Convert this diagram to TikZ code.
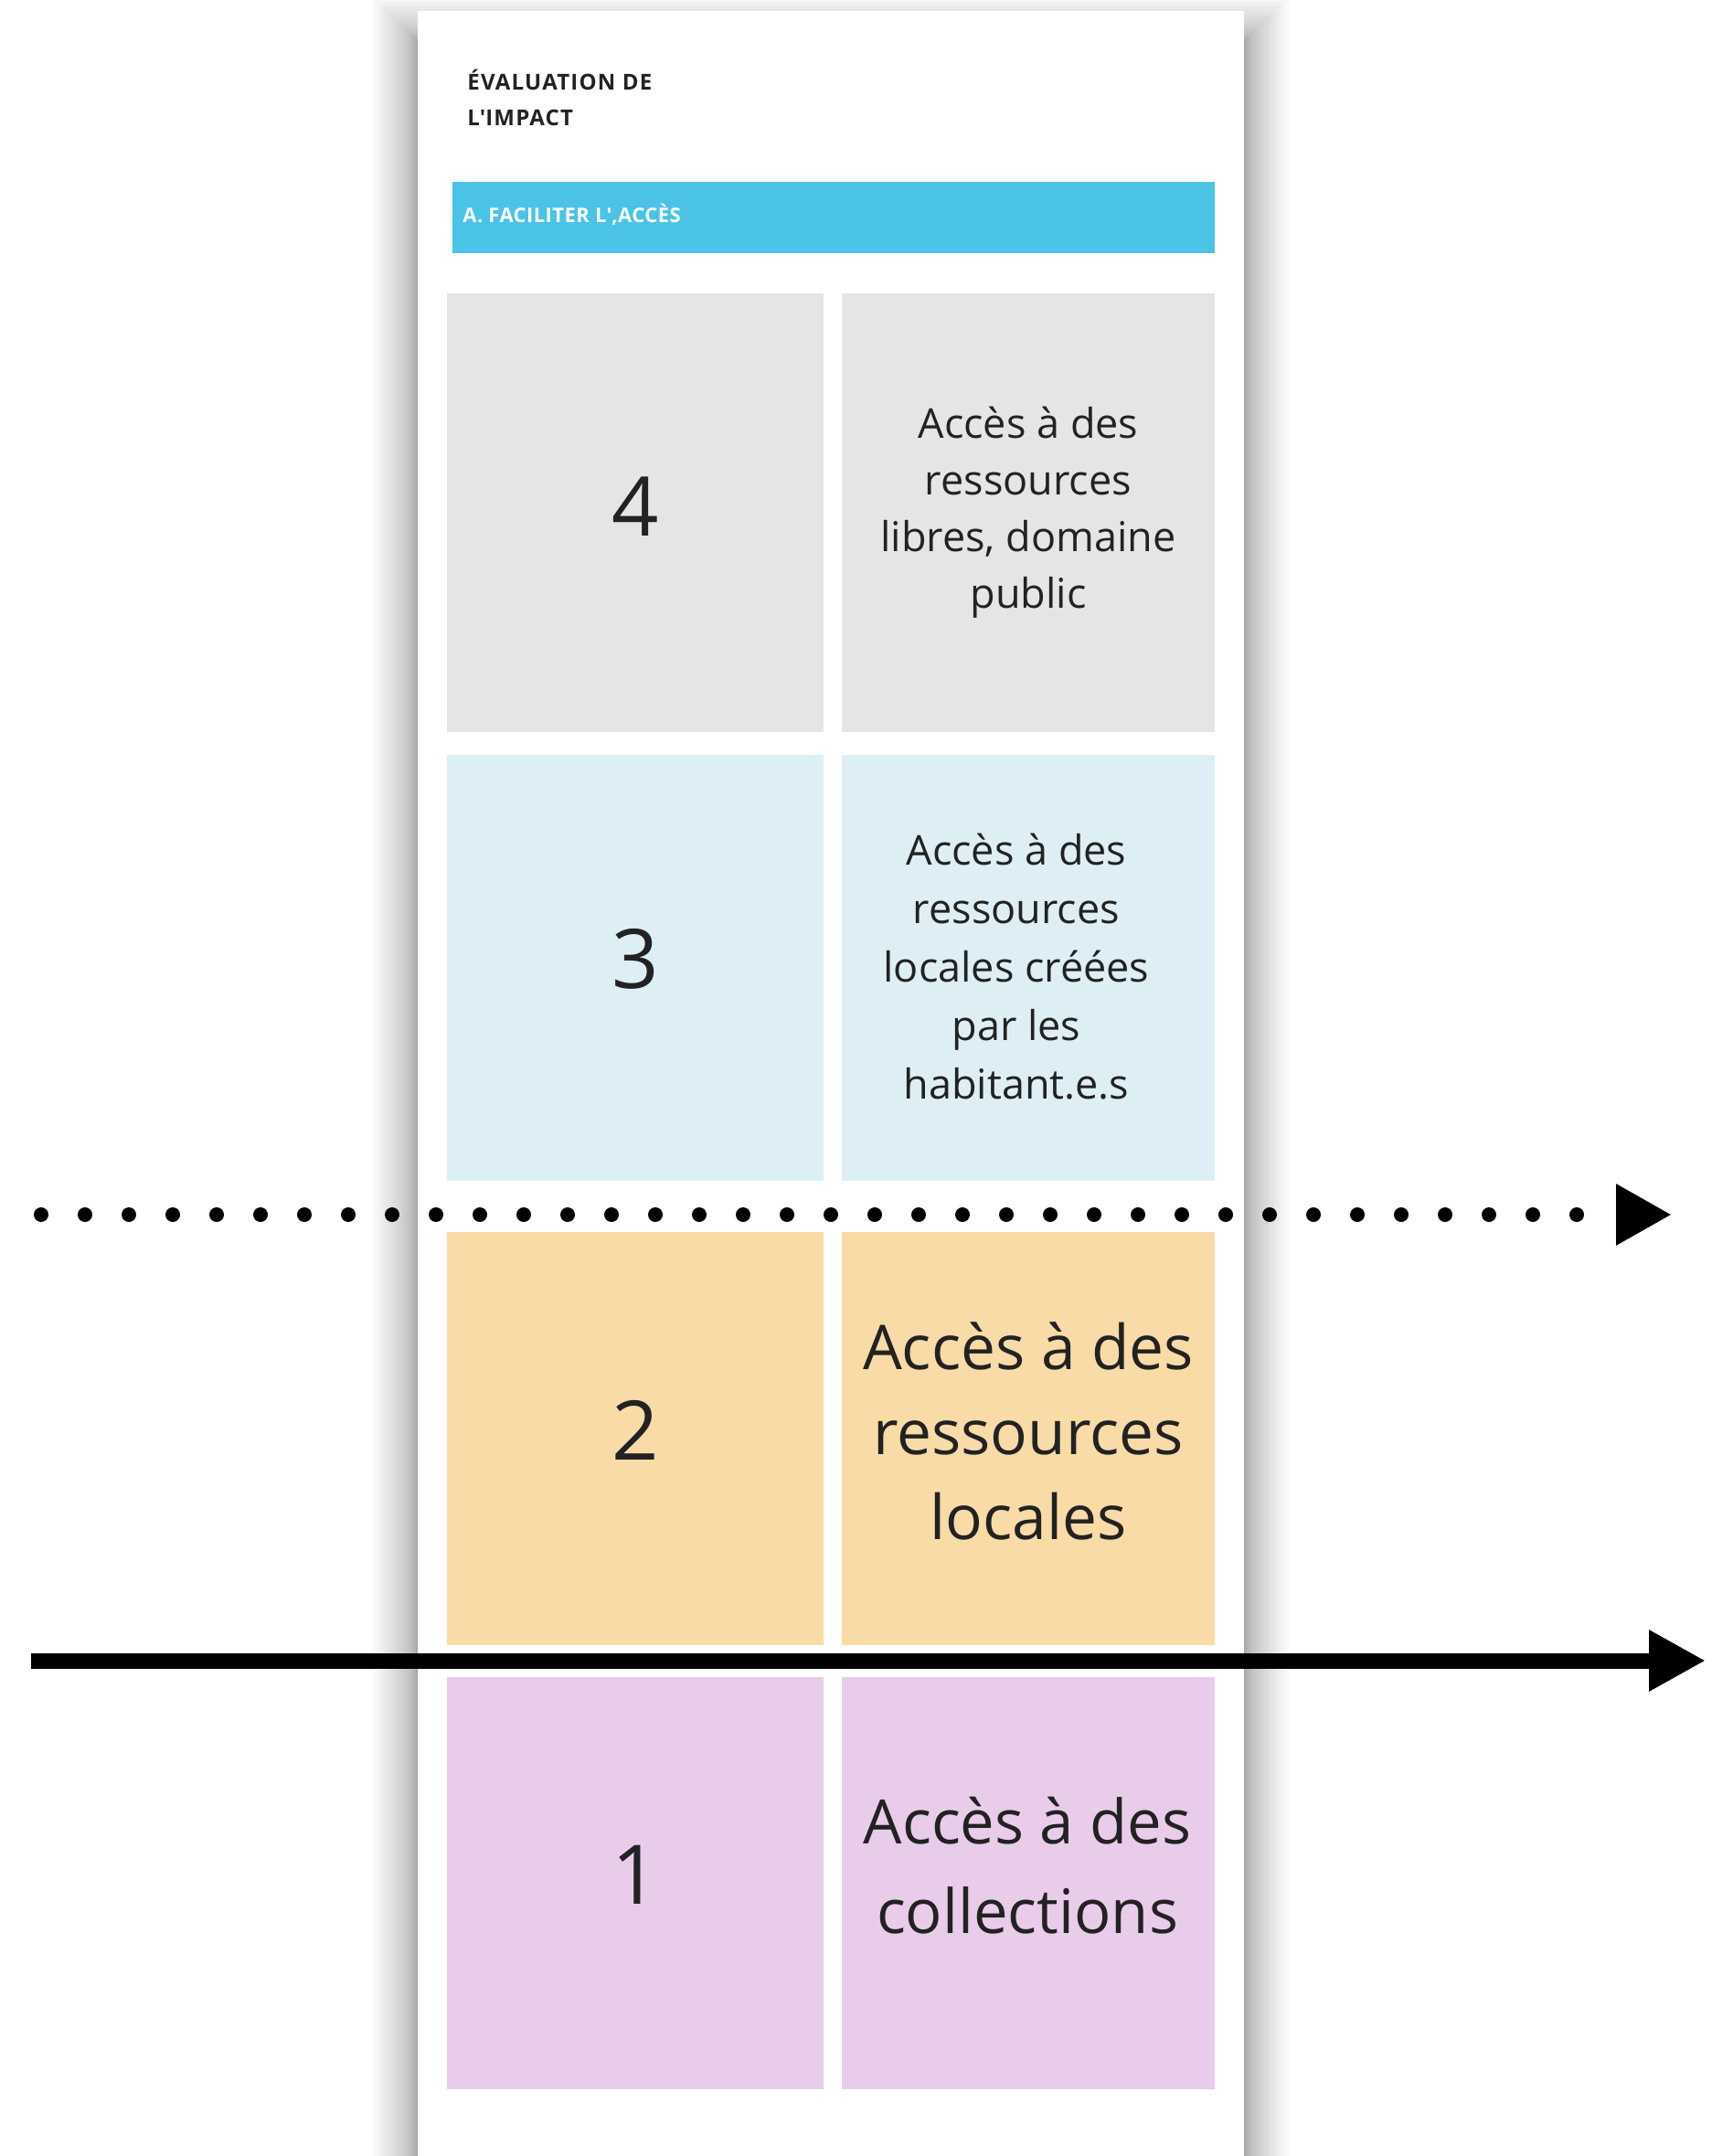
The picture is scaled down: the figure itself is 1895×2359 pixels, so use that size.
\documentclass[tikz,border=0pt]{standalone}
\usepackage{fontspec}
\setmainfont{Open Sans}
\usetikzlibrary{arrows.meta}
\definecolor{barblue}{RGB}{75,195,231}
\definecolor{rowgray}{RGB}{229,229,229}
\definecolor{rowblue}{RGB}{221,239,245}
\definecolor{rowpeach}{RGB}{248,219,166}
\definecolor{rowlav}{RGB}{233,204,234}
\definecolor{ink}{RGB}{34,34,34}
\tikzset{
  cell/.style={rectangle, inner sep=0pt, outer sep=0pt, draw=none},
  digit/.style={inner sep=0pt, text=ink, font=\fontsize{45}{54}\selectfont},
  smalltxt/.style={inner sep=0pt, text=ink, align=center, font=\fontsize{22.5}{31}\selectfont},
  midtxt/.style={inner sep=0pt, text=ink, align=center, font=\fontsize{22.5}{32}\selectfont},
  bigtxt/.style={inner sep=0pt, text=ink, align=center, font=\fontsize{33.8}{46.5}\selectfont},
  bigtxtb/.style={inner sep=0pt, text=ink, align=center, font=\fontsize{33.5}{49}\selectfont},
  titletxt/.style={inner sep=0pt, anchor=base west, text=ink, font=\fontsize{12}{19.5}\selectfont\bfseries\addfontfeature{LetterSpace=5}},
  bartxt/.style={inner sep=0pt, anchor=base west, text=white, font=\fontsize{11}{13}\selectfont\bfseries\addfontfeature{LetterSpace=2}},
  solidarrow/.style={line width=8.5pt, -{Triangle[length=31pt,width=31.5pt]}},
  dotarrow/.style={line width=8pt, line cap=round, dash pattern=on 0pt off 24pt, -{Triangle[length=30.5pt,width=31.5pt]}}
}
\begin{document}
\begin{tikzpicture}[x=0.5pt,y=-0.5pt]
\useasboundingbox (0,0) rectangle (1895,2359);
\clip (0,0) rectangle (1895,2359);
% card shadow (denser near the card edge)
\foreach \i in {1,...,30}
  \fill[black,opacity=0.016] ({457-50*(\i/30)^2},{45-50*(\i/30)^2}) rectangle ({1361+50*(\i/30)^2},2420);
% card
\fill[white] (457,12) rectangle (1361,2420);
% title
\node[titletxt] (t1) at (511,99) {ÉVALUATION DE};
\node[titletxt] (t2) at (511,138) {L\textquotesingle IMPACT};
% bar
\node[cell, fill=barblue, minimum width=417pt, minimum height=39pt] (bar) at (912,238) {};
\node[bartxt] (bartext) at (506,244) {A. FACILITER L\textquotesingle,ACCÈS};
% row 4
\node[cell, fill=rowgray, minimum width=206pt, minimum height=240pt] (b4l) at (695,561) {};
\node[cell, fill=rowgray, minimum width=204pt, minimum height=240pt] (b4r) at (1125,561) {};
% row 3
\node[cell, fill=rowblue, minimum width=206pt, minimum height=233pt] (b3l) at (695,1059) {};
\node[cell, fill=rowblue, minimum width=204pt, minimum height=233pt] (b3r) at (1125,1059) {};
% row 2
\node[cell, fill=rowpeach, minimum width=206pt, minimum height=226pt] (b2l) at (695,1574) {};
\node[cell, fill=rowpeach, minimum width=204pt, minimum height=226pt] (b2r) at (1125,1574) {};
% row 1
\node[cell, fill=rowlav, minimum width=206pt, minimum height=225.5pt] (b1l) at (695,2060.5) {};
\node[cell, fill=rowlav, minimum width=204pt, minimum height=225.5pt] (b1r) at (1125,2060.5) {};
% digits
\node[digit] (d4) at (695,554) {4};
\node[digit] (d3) at (695,1049) {3};
\node[digit] (d2) at (695,1565) {2};
\node[digit] (d1) at (695,2051) {1};
% texts
\node[smalltxt] (x4) at (1125,561) {Accès à des\\ressources\\libres, domaine\\public};
\node[midtxt] (x3) at (1112,1058) {Accès à des\\ressources\\locales créées\\par les\\habitant.e.s};
\node[bigtxt] (x2) at (1125,1566) {Accès à des\\ressources\\locales};
\node[bigtxtb] (x1) at (1124,2041) {Accès à des\\collections};
% arrows
\coordinate (dS) at (45,1329);
\coordinate (dE) at (1829,1329);
\draw[dotarrow] (dS) -- (dE);
\coordinate (sS) at (34,1817);
\coordinate (sE) at (1866,1817);
\draw[solidarrow] (sS) -- (sE);
\end{tikzpicture}
\end{document}
